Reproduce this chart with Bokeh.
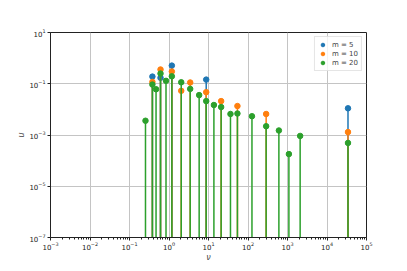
from bokeh.plotting import figure
from bokeh.models import FixedTicker, Legend, LegendItem
from bokeh.embed import file_html
from bokeh.resources import INLINE

# data
v_m5 = [0.38, 0.61, 1.18, 8.75, 34000]
u_m5 = [0.19, 0.17, 0.51, 0.145, 0.011]
v_m10 = [0.38, 0.61, 1.18, 2.04, 3.44, 8.75, 20.9, 54, 288, 34000]
u_m10 = [0.118, 0.36, 0.30, 0.053, 0.112, 0.047, 0.021, 0.0135, 0.0066, 0.0013]
v_m20 = [0.254, 0.38, 0.47, 0.61, 0.84, 1.18, 2.04, 3.44, 5.8, 8.75, 13.7,
         20.9, 36, 54, 126, 288, 605, 1085, 2090, 34000]
u_m20 = [0.0036, 0.093, 0.061, 0.25, 0.13, 0.195, 0.114, 0.063, 0.036, 0.021,
         0.0148, 0.0123, 0.0066, 0.0069, 0.0054, 0.0022, 0.0015, 0.00018,
         0.00092, 0.00049]
labels = ["m = 5", "m = 10", "m = 20"]
x_ticks = [10.0 ** k for k in range(-3, 6)]
y_ticks = [10.0 ** k for k in (1, -1, -3, -5, -7)]
x_lim = (1e-3, 1e5)
y_lim = (1e-7, 1e1)

colors = ["#1f77b4", "#ff7f0e", "#2ca02c"]

p = figure(x_axis_type="log", y_axis_type="log",
           x_range=x_lim, y_range=y_lim,
           frame_width=316, frame_height=205,
           min_border_left=50, min_border_right=33,
           min_border_top=32, min_border_bottom=24,
           output_backend="svg", toolbar_location=None)
p.background_fill_color = "white"
p.border_fill_color = "white"
p.outline_line_color = "#222222"
p.outline_line_width = 1

minor_x = [m * 10.0 ** k for k in range(-3, 5) for m in range(2, 10)]
p.xaxis.ticker = FixedTicker(ticks=x_ticks, minor_ticks=minor_x)
p.yaxis.ticker = FixedTicker(ticks=y_ticks, minor_ticks=[])

for ax in (p.xaxis[0], p.yaxis[0]):
    ax.axis_line_color = "#222222"
    ax.major_tick_line_color = "#222222"
    ax.minor_tick_line_color = "#222222"
    ax.major_tick_out = 3
    ax.major_tick_in = 0
    ax.minor_tick_out = 2
    ax.minor_tick_in = 0
    ax.major_label_text_font = "DejaVu Sans"
    ax.major_label_text_font_size = "7px"
    ax.major_label_text_color = "#222222"
    ax.major_label_standoff = 2
    ax.axis_label_text_font = "DejaVu Sans"
    ax.axis_label_text_font_size = "8px"
    ax.axis_label_text_font_style = "italic"
    ax.axis_label_standoff = 0

p.xaxis.major_label_standoff = 1
p.xaxis.axis_label = "ν"
p.yaxis.axis_label = "u"

p.xgrid.grid_line_color = "#c4c4c4"
p.ygrid.grid_line_color = "#c4c4c4"
p.xgrid.grid_line_width = 1
p.ygrid.grid_line_width = 1

items = []
for vs, us, c, lab in zip([v_m5, v_m10, v_m20], [u_m5, u_m10, u_m20], colors, labels):
    base = [y_lim[0]] * len(vs)
    p.segment(x0=vs, y0=base, x1=vs, y1=us, line_color=c, line_width=1.5)
    r = p.scatter(x=vs, y=us, size=5.5, fill_color=c, line_color=c)
    items.append(LegendItem(label=lab, renderers=[r]))

legend = Legend(items=items, location="top_right",
                margin=4, padding=3, spacing=0,
                label_text_font="DejaVu Sans", label_text_font_size="7px",
                label_height=9, glyph_height=9, glyph_width=9,
                label_standoff=5,
                border_line_color="#cccccc", border_line_width=1,
                background_fill_alpha=0.8)
p.add_layout(legend)

open("out.html", "w").write(file_html(p, INLINE))
